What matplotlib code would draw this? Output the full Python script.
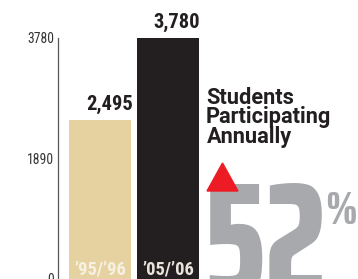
import matplotlib
matplotlib.use("Agg")
import matplotlib.pyplot as plt
from matplotlib import font_manager
from matplotlib.font_manager import FontProperties
from matplotlib.textpath import TextPath
from matplotlib.patches import Polygon

# data
years = ["\u201995/\u201996", "\u201905/\u201906"]
students = [2495, 3780]
yticks = [0, 1890, 3780]
pct_change = 52
title_lines = ["Students", "Participating", "Annually"]

W, H, DPI = 358, 279, 100

weights = {}
for f in font_manager.fontManager.ttflist:
    weights.setdefault(f.name, set()).add(f.weight if isinstance(f.weight, int) else 400)


def pick(prefs, min_bold=700):
    # first family that really has a bold face (not just a variable font)
    for p in prefs:
        if p in weights and max(weights[p]) >= min_bold:
            return p
    return "DejaVu Sans"


TEXT_FONT = pick(["Roboto Condensed", "Archivo Narrow", "Barlow Semi Condensed",
                  "Encode Sans Semi Condensed", "Saira SemiCondensed"])
HEAD_FONT = pick(["Roboto", "Liberation Sans", "Open Sans", "Noto Sans"])
BIG_FONT = pick(["Saira ExtraCondensed", "Barlow Condensed", "Roboto Condensed",
                 "Encode Sans Condensed"], min_bold=800)
BIG_W = 800 if BIG_FONT != "Roboto Condensed" else "bold"


def ext_of(s, family, weight):
    fp = FontProperties(family=family, weight=weight)
    return TextPath((0, 0), s, size=1, prop=fp).get_extents()


def fs_width(s, family, weight, px):
    return px / (ext_of(s, family, weight).width * DPI / 72)


def fs_height(s, family, weight, px):
    return px / (ext_of(s, family, weight).height * DPI / 72)


def put(fig, s, family, weight, fs, color, x, baseline, align="left", zorder=3):
    # x, baseline in pixels, origin at top-left; align on the drawn glyphs
    e = ext_of(s, family, weight)
    k = fs * DPI / 72
    if align == "left":
        x0 = x - e.x0 * k
    elif align == "right":
        x0 = x - e.x1 * k
    else:
        x0 = x - (e.x0 + e.x1) / 2 * k
    fig.text(x0 / W, 1 - baseline / H, s, ha="left", va="baseline", fontsize=fs,
             family=family, weight=weight, color=color, zorder=zorder)


def top_to_base(s, family, weight, fs, top):
    return top + ext_of(s, family, weight).y1 * fs * DPI / 72


fig = plt.figure(figsize=(W / DPI, H / DPI), dpi=DPI)
ax = fig.add_axes([58 / W, 0, 300 / W, 241 / H])

bar_colors = ["#E5D2A0", "#231F20"]
label_colors = ["#F7F1E3", "#E8E4DC"]
bw = 0.91
xs = list(range(len(years)))
ax.bar(xs, students, width=bw, color=bar_colors)
ax.set_ylim(0, 3780)
ax.set_xlim(-0.618, -0.618 + 300 / 68)

for sp in ["top", "right", "bottom"]:
    ax.spines[sp].set_visible(False)
ax.spines["left"].set_color("#555555")
ax.spines["left"].set_linewidth(0.9)
ax.set_xticks([])
ax.set_yticks(yticks)
fs_tick = fs_height("3780", TEXT_FONT, "normal", 10)
ax.set_yticklabels([str(v) for v in yticks], fontsize=fs_tick, color="#333333", family=TEXT_FONT)
ax.tick_params(axis="y", length=0, pad=4 * 72 / DPI)

# value labels above bars, right aligned on bar edge
fs_val = min(fs_width("2,495", TEXT_FONT, "bold", 47), fs_height("2495", TEXT_FONT, "bold", 15))
fs_year = min(fs_width(years[0], TEXT_FONT, "bold", 52), fs_height(years[0], TEXT_FONT, "bold", 15))
for x, v, yr, lc in zip(xs, students, years, label_colors):
    rx, ty = ax.transData.transform((x + bw / 2, v))
    cx, _ = ax.transData.transform((x, 0))
    put(fig, f"{v:,}", TEXT_FONT, "bold", fs_val, "#231F20", rx + 0.5, (H - ty) - 10.5, align="right")
    put(fig, yr, TEXT_FONT, "bold", fs_year, lc, cx, 275, align="center")

# heading
fs_head = min(fs_width("Participating", HEAD_FONT, "bold", 135), fs_height("A", HEAD_FONT, "bold", 15.5))
for line, top in zip(title_lines, [88, 108, 127]):
    put(fig, line, HEAD_FONT, "bold", fs_head, "#231F20", 207,
        top_to_base(line[0], HEAD_FONT, "bold", fs_head, top))

# big percentage
big = str(pct_change)
fs_big = fs_width(big, BIG_FONT, BIG_W, 113)
put(fig, big, BIG_FONT, BIG_W, fs_big, "#A7A9AC", 209, top_to_base(big, BIG_FONT, BIG_W, fs_big, 183))

fs_pct = min(fs_height("%", BIG_FONT, BIG_W, 36), fs_width("%", BIG_FONT, BIG_W, 28))
put(fig, "%", BIG_FONT, BIG_W, fs_pct, "#A7A9AC", 327, top_to_base("%", BIG_FONT, BIG_W, fs_pct, 192))

tri = Polygon([(207 / W, 1 - 191 / H), (238 / W, 1 - 191 / H), (222.5 / W, 1 - 163 / H)],
              closed=True, transform=fig.transFigure, color="#ED1C24", zorder=5)
fig.patches.append(tri)

fig.savefig("out.png", dpi=DPI)
